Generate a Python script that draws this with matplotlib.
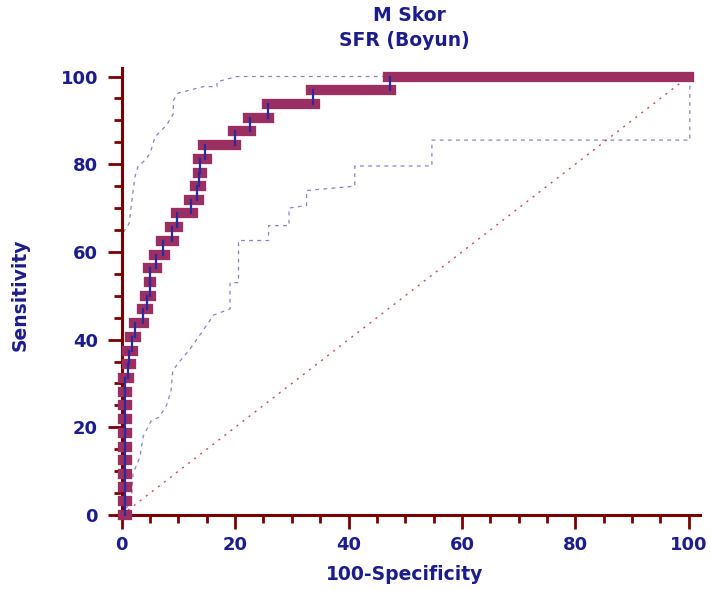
"""ROC eğrisi: M Skor, SFR (Boyun) – güven aralığı bantları ile."""

import matplotlib
matplotlib.use("Agg")
import matplotlib.pyplot as plt
from matplotlib.ticker import MultipleLocator

# ROC basamakları: her duyarlılık düzeyi için yatay parçanın başlangıç / bitişi
sens = [0, 3.1, 6.3, 9.4, 12.5, 15.6, 18.8, 21.9, 25.0, 28.1, 31.3, 34.4, 37.5,
        40.6, 43.8, 46.9, 50.0, 53.1, 56.3, 59.4, 62.5, 65.6, 68.8, 71.9, 75.0,
        78.1, 81.3, 84.4, 87.5, 90.6, 93.8, 96.9, 100]
fpr_lo = [0.3, 0.3, 0.3, 0.3, 0.3, 0.3, 0.3, 0.3, 0.3, 0.3, 0.3, 0.9, 1.0,
          1.5, 2.1, 3.5, 4.1, 4.8, 4.7, 5.7, 6.9, 8.5, 9.5, 11.8, 12.9,
          13.4, 13.4, 14.4, 19.7, 22.3, 25.7, 33.4, 47.0]
fpr_hi = [1.0, 1.0, 1.0, 1.0, 1.0, 1.0, 1.0, 1.0, 1.0, 1.0, 1.2, 1.6, 2.0,
          2.6, 4.0, 4.7, 5.1, 5.1, 6.3, 7.7, 9.2, 10.0, 12.5, 13.6, 14.0,
          14.1, 15.0, 20.2, 22.8, 26.0, 34.1, 47.5, 100.0]

# %95 güven sınırları
upper_x = [0, 0, 0.3, 1.3, 1.5, 2.3, 2.9, 4.2, 5.0, 5.9, 7.9, 9.1, 9.1, 9.9,
           14.4, 16.8, 16.8, 20.3, 100]
upper_y = [0, 64.5, 64.5, 66.5, 68.6, 77.0, 79.6, 81.0, 82.5, 86.3, 88.9, 91.5,
           94.5, 96.2, 97.7, 97.7, 98.8, 100, 100]
lower_x = [0, 1.7, 2.0, 3.2, 3.8, 5.2, 6.6, 7.9, 8.7, 9.0, 10.2, 11.9, 14.4,
           16.2, 19.1, 19.1, 20.6, 20.6, 25.9, 25.9, 29.5, 29.5, 32.6, 32.6,
           41.1, 41.1, 54.7, 54.7, 100.2, 100.2]
lower_y = [0, 3.3, 9.5, 13.2, 18.0, 21.5, 22.3, 25.0, 28.4, 33.0, 35.0, 37.6,
           42.2, 45.6, 47.0, 53.0, 53.0, 62.6, 62.6, 66.0, 66.0, 70.0, 70.6,
           74.0, 75.0, 79.6, 79.6, 85.5, 85.5, 100]

NAVY = "#1c1c8c"
AXIS_RED = "#7a0000"
ROC_COLOR = "#9b2f62"
BAND_COLOR = "#4f4fc0"
FONT = ["DejaVu Sans"]

fig = plt.figure(figsize=(7.1, 5.9), dpi=100)
ax = fig.add_axes([0.1475, 0.1048, 0.8465, 0.7878])
ax.set_xlim(-3, 103)
ax.set_ylim(-3, 103)

# köşegen (referans çizgisi)
ax.plot([0, 100], [0, 100], color="#c83c3c", linewidth=1.0,
        dashes=(1.5, 4), alpha=0.9, zorder=2)

# güven bantları
for bx, by in [(upper_x, upper_y), (lower_x, lower_y)]:
    ax.plot(bx, by, color=BAND_COLOR, linewidth=0.9, dashes=(3, 3.5),
            alpha=0.7, zorder=2)

# ROC eğrisi: kalın yatay parçalar, ince lacivert dikey bağlantılar
for s, lo, hi in zip(sens, fpr_lo, fpr_hi):
    ax.plot([lo, hi], [s, s], color=ROC_COLOR, linewidth=7.4,
            solid_capstyle="projecting", zorder=3)
for i in range(len(sens) - 1):
    xc = (fpr_hi[i] + fpr_lo[i + 1]) / 2
    ax.plot([xc, xc], [sens[i], sens[i + 1]], color="#2a2aa0",
            linewidth=1.6, zorder=4)

# eksenler
for side in ("top", "right"):
    ax.spines[side].set_visible(False)
for side in ("left", "bottom"):
    ax.spines[side].set_position(("data", 0))
    ax.spines[side].set_color(AXIS_RED)
    ax.spines[side].set_linewidth(2.2)
    ax.spines[side].set_zorder(2.5)
ax.spines["left"].set_bounds(-1, 102)
ax.spines["bottom"].set_bounds(-1, 102)

ax.xaxis.set_major_locator(MultipleLocator(20))
ax.xaxis.set_minor_locator(MultipleLocator(5))
ax.yaxis.set_major_locator(MultipleLocator(20))
ax.yaxis.set_minor_locator(MultipleLocator(5))
ax.set_xticks(range(0, 101, 20))
ax.set_yticks(range(0, 101, 20))
ax.tick_params(which="major", direction="out", length=10, width=2,
               color=AXIS_RED, labelcolor=NAVY, labelsize=13)
ax.tick_params(axis="y", which="major", pad=7)
ax.tick_params(axis="x", which="major", pad=5)
ax.tick_params(which="minor", direction="out", length=6, width=2,
               color=AXIS_RED)
for lab in ax.get_xticklabels() + ax.get_yticklabels():
    lab.set_fontweight("bold")
    lab.set_family(FONT)

font = dict(color=NAVY, fontsize=13.5, fontweight="bold", family=FONT)
fig.text(0.576, 0.974, "M Skor", ha="center", va="center", **font)
fig.text(0.570, 0.932, "SFR (Boyun)", ha="center", va="center", **font)
fig.text(0.570, 0.026, "100-Specificity", ha="center", va="center", **font)
fig.text(0.028, 0.50, "Sensitivity", ha="center", va="center",
         rotation=90, **font)

fig.savefig("out.png", dpi=100)
plt.close(fig)
